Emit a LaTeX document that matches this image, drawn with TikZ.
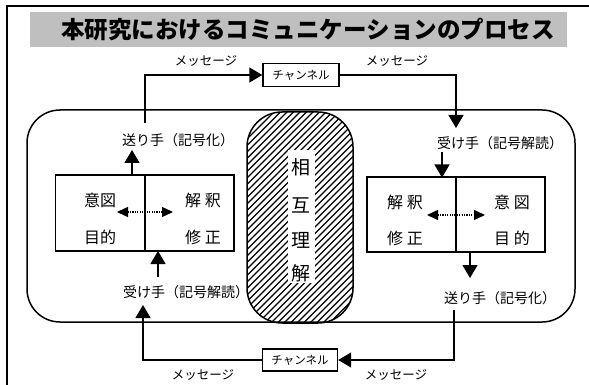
\documentclass[tikz,border=0pt]{standalone}
\usepackage{fontspec}
\newfontfamily\cjk{Noto Sans CJK JP}
\usetikzlibrary{arrows.meta}
\tikzset{
  conn/.style={line width=1.4pt},
  arr/.style={-{Triangle[width=15pt,length=13pt]}},
  dbl/.style={line width=1.4pt,dash pattern=on 1.2pt off 1.2pt,{Triangle[width=10pt,length=11pt]}-{Triangle[width=10pt,length=11pt]}},
  lbl/.style={font=\cjk\fontsize{14}{15}\selectfont,inner sep=1pt},
  msg/.style={font=\cjk\fontsize{12.5}{13}\selectfont,inner sep=1pt},
  chan/.style={draw,line width=1.4pt,font=\cjk\fontsize{11.5}{12}\selectfont,inner sep=0pt},
  cell/.style={draw,line width=1.4pt,inner sep=0pt},
  ctext/.style={font=\cjk\fontsize{16}{17}\selectfont,inner sep=1pt},
  mutual/.style={font=\cjk\fontsize{19}{20}\selectfont,inner sep=1pt},
}
\begin{document}
\begin{tikzpicture}[x=1pt,y=-1pt]
\useasboundingbox (0,0) rectangle (589,385);
% outer frame
\draw[line width=1.2pt] (589,6) -- (7,6) -- (7,385);
% title
\fill[black!25] (30,12) rectangle (567,47);
\node[font=\cjk\bfseries\fontsize{23.5}{24}\selectfont,inner sep=0pt] (title) at (308,30) {本研究におけるコミュニケーションのプロセス};
% big rounded frame
\draw[line width=1.5pt,rounded corners=33pt] (27,110) rectangle (575,322);
% hatched pill
\begin{scope}
  \clip[rounded corners=35pt] (247,112) rectangle (353,323);
  \foreach \x in {30,36.5,...,365} \draw[line width=1.4pt] (\x,330) -- ++(230,-230);
\end{scope}
\fill[white] (288,150) rectangle (315,283);
\draw[line width=1.5pt,rounded corners=35pt] (247,112) rectangle (353,323);
\node[mutual] (m1) at (301,167) {相};
\node[mutual] (m2) at (301,205) {互};
\node[mutual] (m3) at (301,240) {理};
\node[mutual] (m4) at (301,273) {解};
% channels
\node[chan,minimum width=76pt,minimum height=23pt] (chT) at (301,75) {チャンネル};
\node[chan,minimum width=75pt,minimum height=22pt] (chB) at (300,360) {チャンネル};
% message labels
\node[msg] (msgTL) at (206,61) {メッセージ};
\node[msg] (msgTR) at (397,61) {メッセージ};
\node[msg] (msgBL) at (203,375) {メッセージ};
\node[msg] (msgBR) at (396,375) {メッセージ};
% left boxes
\node[cell,minimum width=89pt,minimum height=76pt] (LA) at (100,213) {};
\node[cell,minimum width=89pt,minimum height=76pt] (LB) at (189.5,213) {};
\node[ctext] (t1) at (100,200) {意図};
\node[ctext] (t2) at (100,237) {目的};
\node[ctext] (t3) at (203,200) {解 釈};
\node[ctext] (t4) at (203,237) {修 正};
% right boxes
\node[cell,minimum width=89pt,minimum height=75pt] (RA) at (411.5,214.5) {};
\node[cell,minimum width=89pt,minimum height=75pt] (RB) at (500.5,214.5) {};
\node[ctext] (t5) at (405,202) {解 釈};
\node[ctext] (t6) at (405,238) {修 正};
\node[ctext] (t7) at (512,202) {意 図};
\node[ctext] (t8) at (512,238) {目 的};
% dotted double arrows
\coordinate (dl1) at (117,212); \coordinate (dl2) at (173,212);
\draw[dbl] (dl1) -- (dl2);
\coordinate (dr1) at (427,215); \coordinate (dr2) at (485,215);
\draw[dbl] (dr1) -- (dr2);
% labels
\node[lbl] (sendL) at (178,140) {送り手（記号化）};
\node[lbl] (rcvR) at (500,143) {受け手（記号解読）};
\node[lbl] (sendR) at (500,298) {送り手（記号化）};
\node[lbl] (rcvL) at (186,292) {受け手（記号解読）};
% connectors
\coordinate (a1) at (132,175.5); \coordinate (a1t) at (132,150);
\draw[conn,arr] (a1) -- (a1t);
\coordinate (tl) at (145,123);
\draw[conn,arr] (tl) |- (chT.west);
\coordinate (tr) at (456,128);
\draw[conn,arr] (chT.east) -| (tr);
\coordinate (a2) at (442,152); \coordinate (a2t) at (442,177.5);
\draw[conn,arr] (a2) -- (a2t);
\coordinate (a3) at (470,252); \coordinate (a3t) at (470,278);
\draw[conn,arr] (a3) -- (a3t);
\coordinate (br) at (454,310);
\draw[conn,arr] (br) |- (chB.east);
\coordinate (bl) at (143,305);
\draw[conn,arr] (chB.west) -| (bl);
\coordinate (a4) at (158,277); \coordinate (a4t) at (158,251);
\draw[conn,arr] (a4) -- (a4t);
\end{tikzpicture}
\end{document}
